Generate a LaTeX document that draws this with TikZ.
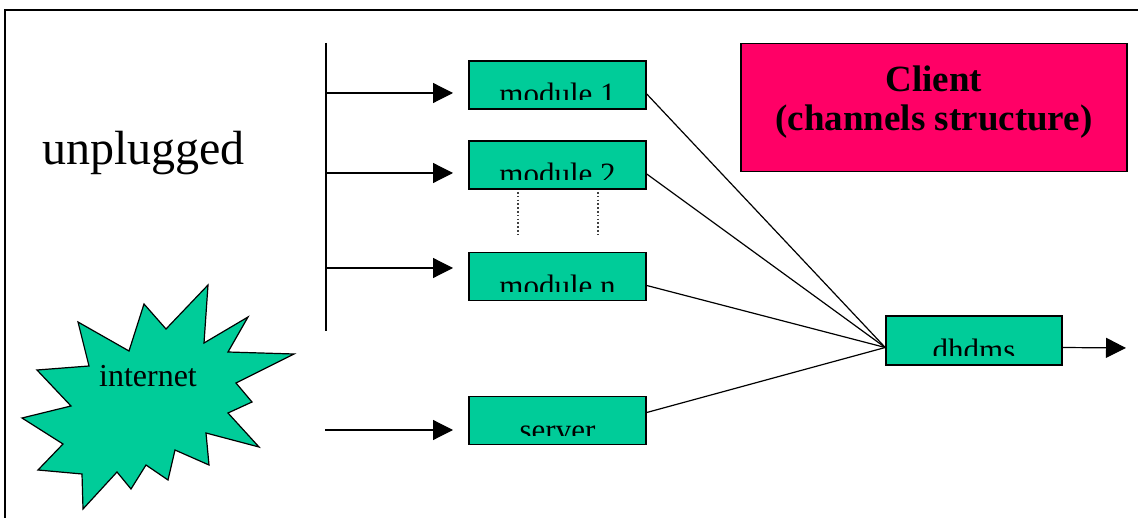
\documentclass[tikz,border=0pt]{standalone}
\usepackage{fontspec}
\setmainfont{Liberation Serif}
\usetikzlibrary{arrows.meta,calc}
\definecolor{boxgreen}{RGB}{0,204,153}
\definecolor{clientpink}{RGB}{255,0,102}
\tikzset{
  modbox/.style={draw=black,line width=1.5pt,fill=boxgreen,minimum width=177pt,minimum height=48pt,inner sep=0pt},
  clientbox/.style={draw=black,line width=1.5pt,fill=clientpink,minimum width=386pt,minimum height=128pt,inner sep=0pt},
  clienttext/.style={anchor=base,inner sep=0pt,font=\fontsize{37}{40}\selectfont\bfseries},
  conn/.style={line width=1.2pt},
  arr/.style={line width=1.2pt,-{Triangle[length=20pt,width=20pt]}},
  boxtext/.style={anchor=base,inner sep=0pt,font=\fontsize{31}{33}\selectfont},
  dots/.style={line width=1.6pt,dash pattern=on 1.6pt off 2.2pt,black!75},
}
\newcommand{\cliplabel}[2]{%
  \begin{scope}
    \clip ($(#1.north west)+(1,1)$) rectangle ($(#1.south east)+(-1,-10)$);
    \node[boxtext] (#1-t) at ($(#1.south)+(0,-5)$) {#2};
  \end{scope}}
\begin{document}
\begin{tikzpicture}[x=1pt,y=-1pt]
\useasboundingbox (0,0) rectangle (1138,518);
\fill[white] (0,0) rectangle (1138,518);
\draw[line width=1.5pt] (5,540) -- (5,10) -- (1160,10);

% labels
\node[anchor=base west,inner sep=0pt,font=\fontsize{48}{50}\selectfont] (unp) at (42,165) {unplugged};

% starburst
\draw[line width=1.2pt,fill=boxgreen] (208,285) -- (204,343) -- (248,317) -- (228,352) -- (294,354) -- (236,383) -- (252,402) -- (228,413) -- (259,447) -- (206,433) -- (209,465) -- (175,450) -- (168,480) -- (146,465) -- (131,489) -- (117,472) -- (83,509) -- (82,474) -- (38,470) -- (63,444) -- (22,418) -- (71,406) -- (37,370) -- (89,366) -- (78,322) -- (129,351) -- (144,304) -- (166,329) -- cycle;
\node[anchor=base,inner sep=0pt,font=\fontsize{32}{34}\selectfont] (inet) at (148,387) {internet};

% boxes
\node[modbox] (m1) at (557.5,85) {};
\node[modbox] (m2) at (557.5,165) {};
\node[modbox] (mn) at (557.5,276.5) {};
\node[modbox] (srv) at (557.5,420.5) {};
\node[modbox,minimum width=176pt,minimum height=49pt] (dh) at (974,340.5) {};
\node[clientbox] (cl) at (934,107.5) {};
\node[clienttext] (cl-t1) at (934,92) {Client};
\node[clienttext] (cl-t2) at (934,131) {(channels structure)};
\cliplabel{m1}{module 1}
\cliplabel{m2}{module 2}
\cliplabel{mn}{module n}
\cliplabel{srv}{server}
\cliplabel{dh}{dhdms}

% bus
\coordinate (bt) at (326,43);
\coordinate (bb) at (326,331);
\draw[conn] (bt) -- (bb);
\draw[arr] (326,93) -- (453,93);
\draw[arr] (326,173) -- (453,173);
\draw[arr] (326,268) -- (453,268);
\coordinate (sin) at (325,430);
\draw[arr] (sin) -- (453,430);

% dotted
\draw[dots] (518,192) -- (518,236);
\draw[dots] (598,192) -- (598,236);

% connectors to dhdms
\coordinate (dj) at ($(dh.west)+(0,7)$);
\draw[conn] ($(m1.east)+(0,9)$) -- (dj);
\draw[conn] ($(m2.east)+(0,9)$) -- (dj);
\draw[conn] ($(mn.east)+(0,9)$) -- (dj);
\draw[conn] ($(srv.east)+(0,-8)$) -- (dj);
\coordinate (out) at (1126,348);
\draw[arr] ($(dh.east)+(0,7)$) -- (out);
\end{tikzpicture}
\end{document}
